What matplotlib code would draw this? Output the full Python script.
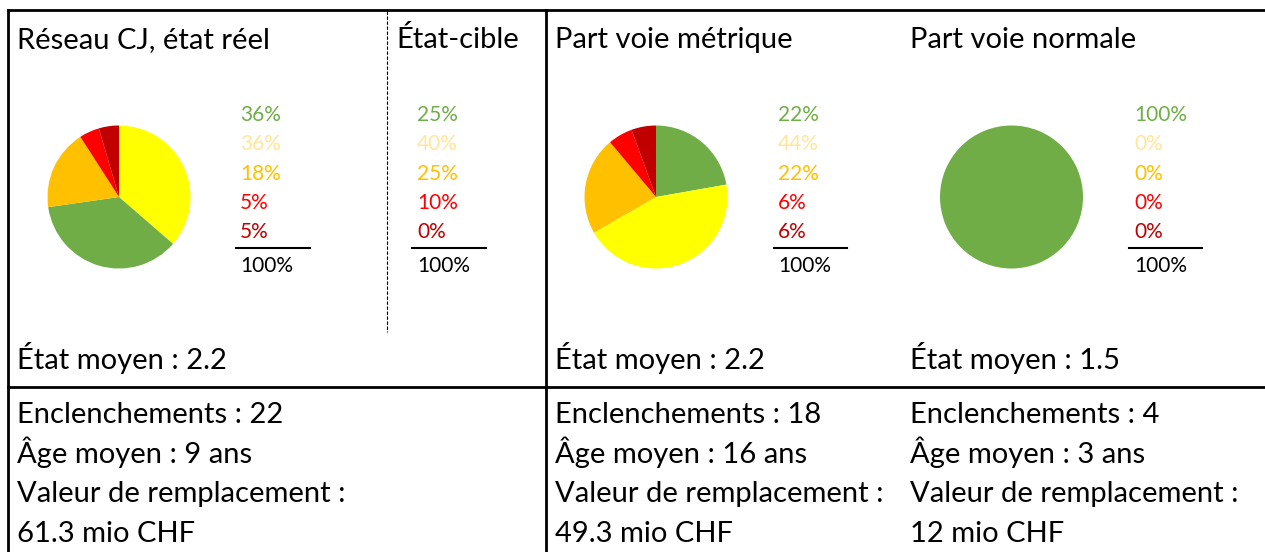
"""
Aiguillages CJ : répartition par classe d'état, réseau total et par type de voie.
"""
import matplotlib.pyplot as plt

plt.rcParams["font.family"] = ["Lato", "DejaVu Sans"]

W, H = 1265, 552

# classes d'état 1..5 (nombre d'aiguillages par classe)
class_colors = ["#70AD47", "#FFFF00", "#FFC000", "#FF0000", "#C00000"]
label_colors = ["#70AD47", "#FFE699", "#FFC000", "#FF0000", "#C00000"]

reel_counts = [8, 8, 4, 1, 1]
metrique_counts = [4, 8, 4, 1, 1]
normale_counts = [4, 0, 0, 0, 0]
cible_pct = [25, 40, 25, 10, 0]

# ordre des secteurs dans chaque camembert
reel_order = [1, 0, 2, 3, 4]
metrique_order = [0, 1, 2, 3, 4]
normale_order = [0, 1, 2, 3, 4]

titles = ["Réseau CJ, état réel", "État-cible", "Part voie métrique", "Part voie normale"]
etat_moyen = [2.2, 2.2, 1.5]
age_moyen = [9, 16, 3]
valeur_mio = ["61.3", "49.3", "12"]

BIG = 21
SMALL = 15


def pct_list(counts):
    total = sum(counts)
    return [int(round(100.0 * c / total + 1e-9)) for c in counts]


def draw_pie(fig, counts, order, cx, cy, r=71.5):
    ax = fig.add_axes([(cx - r) / W, 1 - (cy + r) / H, 2 * r / W, 2 * r / H])
    vals = [counts[i] for i in order]
    cols = [class_colors[i] for i in order]
    ax.pie(vals, colors=cols, startangle=90, counterclock=False,
           wedgeprops={"linewidth": 0})
    ax.set_aspect("equal")
    ax.set_xlim(-1, 1)
    ax.set_ylim(-1, 1)
    ax.axis("off")


def draw_pct_column(ax, pcts, x, line_x0, line_x1):
    rows_y = [121, 150, 180, 209, 238]
    for p, y, c in zip(pcts, rows_y, label_colors):
        ax.text(x, y, f"{p}%", color=c, fontsize=SMALL, va="baseline", ha="left")
    ax.plot([line_x0, line_x1], [248, 248], color="black", lw=1.5)
    ax.text(x, 272, f"{sum(pcts)}%", color="black", fontsize=SMALL, va="baseline", ha="left")


fig = plt.figure(figsize=(W / 100, H / 100), dpi=100)
bg = fig.add_axes([0, 0, 1, 1])
bg.set_xlim(0, W)
bg.set_ylim(H, 0)
bg.axis("off")

# cadre du tableau
lw = 2
bg.plot([8, W], [10, 10], color="black", lw=lw)
bg.plot([8, 8], [10, H], color="black", lw=lw)
bg.plot([546, 546], [10, H], color="black", lw=lw)
bg.plot([8, W], [386.5, 386.5], color="black", lw=lw)
bg.plot([386.5, 386.5], [11, 332], color="black", lw=0.8, ls=(0, (3, 1.5)))

title_x = [17, 396, 555, 910]
for t, x in zip(titles, title_x):
    bg.text(x, 48, t, fontsize=BIG, va="baseline", ha="left")

draw_pie(fig, reel_counts, reel_order, 119, 197)
draw_pie(fig, metrique_counts, metrique_order, 656, 197)
draw_pie(fig, normale_counts, normale_order, 1011.5, 197)

draw_pct_column(bg, pct_list(reel_counts), 240, 236, 310)
draw_pct_column(bg, cible_pct, 417, 412, 486)
draw_pct_column(bg, pct_list(metrique_counts), 778, 774, 847)
draw_pct_column(bg, pct_list(normale_counts), 1134, 1129, 1202)

col_x = [17, 555, 910]
for x, em in zip(col_x, etat_moyen):
    bg.text(x, 369, f"État moyen : {em}", fontsize=BIG, va="baseline", ha="left")

all_counts = [reel_counts, metrique_counts, normale_counts]
for x, counts, age, val in zip(col_x, all_counts, age_moyen, valeur_mio):
    lines = [f"Enclenchements : {sum(counts)}",
             f"Âge moyen : {age} ans",
             "Valeur de remplacement :",
             f"{val} mio CHF"]
    for i, s in enumerate(lines):
        bg.text(x, 423 + 39.5 * i, s, fontsize=BIG, va="baseline", ha="left")

fig.savefig("out.png", dpi=100)
